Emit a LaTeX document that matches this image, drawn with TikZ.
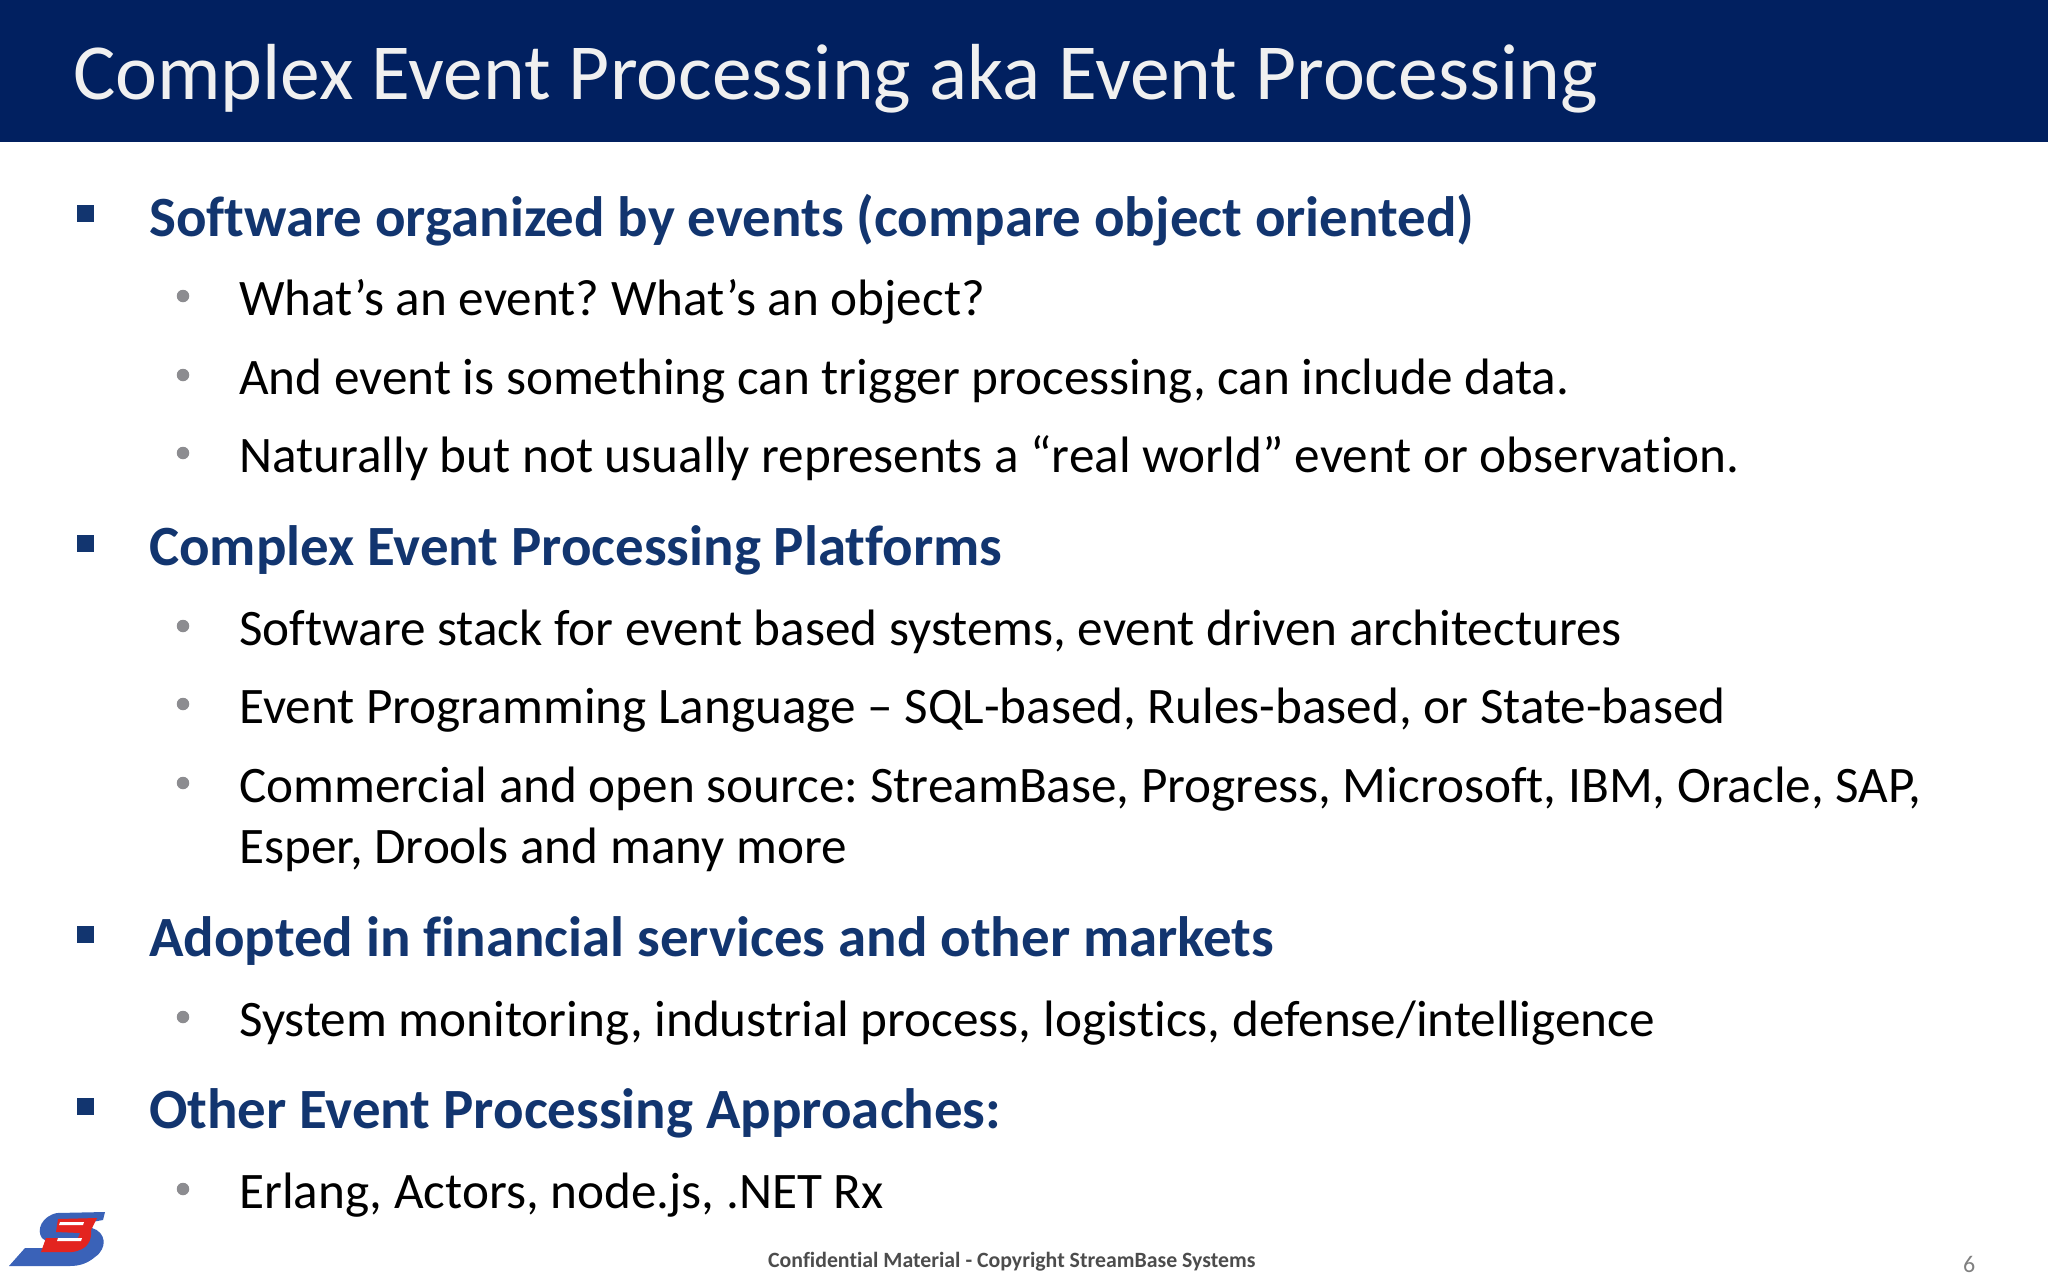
\documentclass[tikz,border=0pt]{standalone}
\usepackage{fontspec}
\setmainfont[Ligatures=NoCommon]{Carlito}
\frenchspacing
\definecolor{headblue}{HTML}{012060}
\definecolor{topicblue}{HTML}{12356F}
\definecolor{dotgray}{HTML}{8C8C90}
\definecolor{logoblue}{HTML}{3A62B8}
\definecolor{logored}{HTML}{E3241F}
\tikzset{
  titletext/.style={anchor=base west,text=white!94!black,inner sep=0pt,font=\fontsize{79.5}{90}\selectfont},
  topic/.style={anchor=base west,text=topicblue,inner sep=0pt,font=\fontsize{56.9}{68}\selectfont\bfseries},
  subtopic/.style={anchor=base west,text=black,inner sep=0pt,font=\fontsize{51.2}{60}\selectfont},
  sqbullet/.style={fill=topicblue,minimum size=17pt,inner sep=0pt},
  dotbullet/.style={circle,fill=dotgray,minimum size=12.5pt,inner sep=0pt},
}
\begin{document}
\begin{tikzpicture}[x=1pt,y=-1pt]
\useasboundingbox (0,0) rectangle (2048,1280);
% Header band
\fill[headblue] (0,0) rectangle (2048,142);
\node[titletext] (title) at (73,99) {Complex Event Processing aka Event Processing};

% First topic
\node[sqbullet] (sqA) at (85,213.5) {};
\node[topic] (topicA) at (149,236) {Software organized by events (compare object oriented)};
\node[dotbullet] (dotAa) at (183,296) {};
\node[subtopic] (subAa) at (239,315.5) {What’s an event? What’s an object?};
\node[dotbullet] (dotAb) at (183,375) {};
\node[subtopic] (subAb) at (239,394) {And event is something can trigger processing, can include data.};
\node[dotbullet] (dotAc) at (183,453) {};
\node[subtopic] (subAc) at (239,472.5) {Naturally but not usually represents a “real world” event or observation.};

% Second topic
\node[sqbullet] (sqB) at (85,543) {};
\node[topic] (topicB) at (149,565) {Complex Event Processing Platforms};
\node[dotbullet] (dotBa) at (183,626) {};
\node[subtopic] (subBa) at (239,645) {Software stack for event based systems, event driven architectures};
\node[dotbullet] (dotBb) at (183,704) {};
\node[subtopic] (subBb) at (239,723) {Event Programming Language – SQL-based, Rules-based, or State-based};
\node[dotbullet] (dotBc) at (183,783) {};
\node[subtopic] (subBc) at (239,802) {Commercial and open source: StreamBase, Progress, Microsoft, IBM, Oracle, SAP,};
\node[subtopic] (subBd) at (239,863.5) {Esper, Drools and many more};

% Third topic
\node[sqbullet] (sqC) at (85,934) {};
\node[topic] (topicC) at (149,956) {Adopted in financial services and other markets};
\node[dotbullet] (dotCa) at (183,1017) {};
\node[subtopic] (subCa) at (239,1036) {System monitoring, industrial process, logistics, defense/intelligence};

% Fourth topic
\node[sqbullet] (sqD) at (85,1106) {};
\node[topic] (topicD) at (149,1128) {Other Event Processing Approaches:};
\node[dotbullet] (dotDa) at (183,1189) {};
\node[subtopic] (subDa) at (239,1208) {Erlang, Actors, node.js, .NET Rx};

% Footer
\node[anchor=base west,inner sep=0pt,text=black!70,font=\fontsize{21.8}{26}\selectfont\bfseries] (footer) at (768,1267) {Confidential Material - Copyright StreamBase Systems};
\node[anchor=base west,inner sep=0pt,text=black!50,font=\fontsize{24}{28}\selectfont] (pagenum) at (1963,1272) {6};

% Logo
\fill[logoblue] (9,1266) -- (25,1248) -- (55,1248) -- (42,1238) .. controls (36,1230) and (42,1216) .. (57,1213)
  -- (105,1212) -- (103,1220) -- (92,1222) -- (92,1228) .. controls (106,1232) and (108,1248) .. (95,1257)
  .. controls (88,1263) and (80,1266) .. (70,1266) -- cycle;
\fill[logored] (58,1219) -- (97,1218) -- (91,1230) .. controls (92,1240) and (88,1250) .. (72,1252)
  -- (41,1252) -- (46,1238) -- (78,1238) -- (80,1233) -- (56,1232) -- cycle;
\fill[white] (60,1222) -- (84,1222) -- (83,1225) -- (59,1225) -- cycle;
\fill[white] (58,1238) -- (82,1238) -- (81,1241) -- (57,1241) -- cycle;
\end{tikzpicture}
\end{document}
